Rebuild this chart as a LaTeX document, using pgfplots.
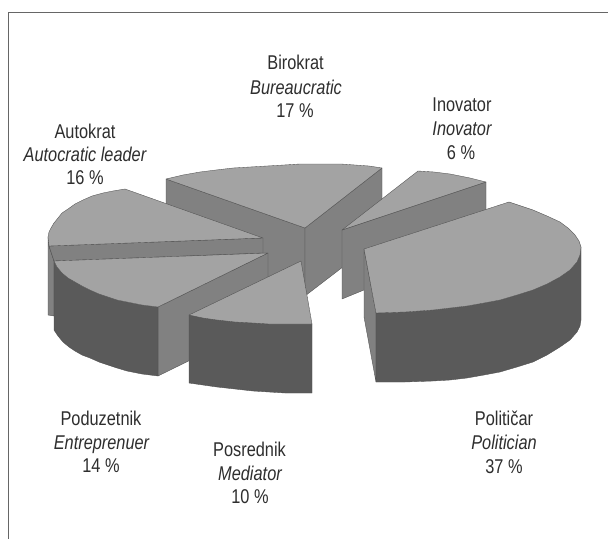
\documentclass[border=0pt]{standalone}
\usepackage{fontspec}
\usepackage{pgfplots}
\pgfplotsset{compat=1.18}
\setmainfont[FakeStretch=0.82]{Liberation Sans}
\definecolor{topc}{HTML}{A3A3A3}
\definecolor{midc}{HTML}{818181}
\definecolor{dark}{HTML}{5A5A5A}
\definecolor{edge}{HTML}{505050}
\tikzset{
  lab/.style={font=\fontsize{20}{22}\selectfont, text=black!82, anchor=base},
  fc/.style={fill=#1, draw=edge, line width=0.35pt, line join=round},
}
\begin{document}
\begin{tikzpicture}
\begin{axis}[
  scale only axis, width=608bp, height=539bp,
  xmin=0, xmax=608, ymin=0, ymax=539, y dir=reverse,
  axis lines=none, clip=true,
]
% page extent
\addplot[fill=white, draw=none] coordinates {(0,0) (608,0) (608,539) (0,539)} -- cycle;
% frame
\addplot[draw=black!60, line width=1.2pt] coordinates {(8.5,539) (8.5,12.7) (608,12.7)};

% Bureaucratic 17 %
\addplot[fc=midc] coordinates {(166,179) (305,228) (305,297) (166,248)} -- cycle;
\addplot[fc=midc] coordinates {(305,228) (382,168) (382,237) (305,296)} -- cycle;
\addplot[fc=topc] coordinates {(166,179) (183,175) (200,172) (216,170) (233,168) (250,167) (267,166) (284,165) (300,164) (314,164) (327,164) (341,164) (355,165) (369,166) (382,168) (305,228)} -- cycle;

% Autocratic 16 %
\addplot[fc=midc] coordinates {(48,237) (49,246) (54,261) (54,316) (48,315)} -- cycle;
\addplot[fc=midc] coordinates {(49,246) (263,238) (263,253) (54,261)} -- cycle;
\addplot[fc=topc] coordinates {(125,189) (113,191) (103,193) (92,196) (83,200) (75,204) (68,209) (62,213) (58,218) (54,223) (51,228) (49,232) (48,237) (49,246) (263,238)} -- cycle;

% Entrepreneur 14 %
\addplot[fc=midc] coordinates {(158,307) (268,253) (268,322) (158,376)} -- cycle;
\addplot[fc=dark] coordinates {(54,261) (57,267) (62,273) (68,278) (75,282) (82,286) (90,290) (99,294) (108,297) (117,300) (127,302) (142,305) (158,307) (158,376) (142,374) (127,371) (117,368) (108,365) (99,362) (90,358) (82,355) (75,351) (69,347) (63,342) (58,336) (54,330)} -- cycle;
\addplot[fc=topc] coordinates {(268,253) (54,261) (57,267) (62,273) (68,278) (75,282) (82,286) (90,290) (99,294) (108,297) (117,300) (127,302) (142,305) (158,307)} -- cycle;

% Mediator 10 %
\addplot[fc=dark] coordinates {(189,315) (203,318) (217,320) (235,322) (253,323) (269,324) (285,324) (312,324) (312,393) (285,393) (269,392) (253,391) (235,389) (217,387) (203,385) (189,383)} -- cycle;
\addplot[fc=topc] coordinates {(301,261) (189,315) (203,318) (217,320) (235,322) (253,323) (269,324) (285,324) (312,324)} -- cycle;

% Inovator 6 %
\addplot[fc=midc] coordinates {(342,230) (486,182) (486,240) (342,299)} -- cycle;
\addplot[fc=topc] coordinates {(342,230) (418,171) (434,172) (450,174) (460,176) (470,178) (486,182)} -- cycle;

% Politician 37 %
\addplot[fc=midc] coordinates {(364,249) (376,313) (376,382) (364,317)} -- cycle;
\addplot[fc=dark] coordinates {(376,313) (405,312) (433,310) (450,308) (467,306) (484,303) (500,300) (517,295) (533,290) (547,284) (560,277) (570,270) (577,262) (580,255) (581,247) (581,320) (580,326) (577,332) (570,340) (560,347) (547,355) (533,362) (517,367) (500,372) (484,375) (467,378) (450,380) (433,381) (405,382) (376,382)} -- cycle;
\addplot[fc=topc] coordinates {(364,249) (509,202) (521,206) (533,210) (547,216) (560,222) (568,228) (575,235) (579,241) (581,247) (580,255) (577,262) (570,270) (560,277) (547,284) (533,290) (517,295) (500,300) (484,303) (467,306) (450,308) (433,310) (405,312) (376,313)} -- cycle;

% labels
\node[lab] at (axis cs:295.5,70) {Birokrat};
\node[lab] at (axis cs:296,94) {\itshape Bureaucratic};
\node[lab] at (axis cs:295,117) {17 \%};
\node[lab] at (axis cs:462,111) {Inovator};
\node[lab] at (axis cs:462,135) {\itshape Inovator};
\node[lab] at (axis cs:461,159) {6 \%};
\node[lab] at (axis cs:85,138) {Autokrat};
\node[lab] at (axis cs:85,161) {\itshape Autocratic leader};
\node[lab] at (axis cs:85,184) {16 \%};
\node[lab] at (axis cs:101,425) {Poduzetnik};
\node[lab] at (axis cs:101.5,449) {\itshape Entreprenuer};
\node[lab] at (axis cs:101,472) {14 \%};
\node[lab] at (axis cs:249.5,456) {Posrednik};
\node[lab] at (axis cs:250,480) {\itshape Mediator};
\node[lab] at (axis cs:250,503) {10 \%};
\node[lab] at (axis cs:504,425) {Političar};
\node[lab] at (axis cs:504,449) {\itshape Politician};
\node[lab] at (axis cs:504,473) {37 \%};
\end{axis}
\end{tikzpicture}
\end{document}
